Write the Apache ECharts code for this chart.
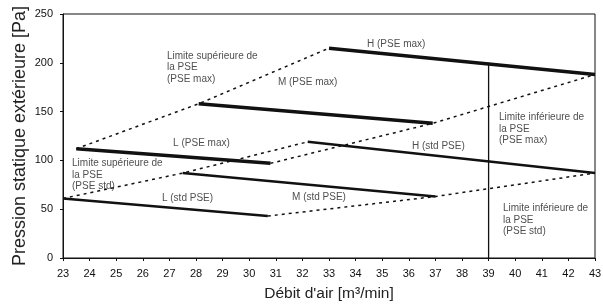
<!DOCTYPE html>
<html><head><meta charset="utf-8">
<script src="https://cdn.jsdelivr.net/npm/echarts@6/dist/echarts.min.js"></script>
<style>html,body{margin:0;padding:0;background:#fff}#c{width:603px;height:304px}</style>
</head><body><div id="c"></div>
<script>
// Fan curves [airflow m3/min, pressure Pa]
const H_max = [[33.0, 215], [43.0, 188]];
const M_max = [[28.1, 158], [36.9, 138]];
const L_max = [[23.5, 112], [30.8, 97]];
const H_std = [[32.2, 119], [43.0, 87]];
const M_std = [[27.5, 87], [37.0, 63]];
const L_std = [[23.0, 61], [30.7, 43]];
// Limit (dotted) lines
const upperMax = [[23.5, 112], [28.1, 158], [33.0, 215]];
const lowerMax = [[30.8, 97], [36.9, 138], [43.0, 188]];
const upperStd = [[23.0, 61], [27.5, 87], [32.2, 119]];
const lowerStd = [[30.7, 43], [37.0, 63], [43.0, 87]];
const vLine = [[39, 0], [39, 200]];
// Annotations
const annoText = [
  "Limite supérieure de\nla PSE\n(PSE max)", "M (PSE max)", "H (PSE max)", "L (PSE max)",
  "Limite inférieure de\nla PSE\n(PSE max)", "H (std PSE)",
  "Limite supérieure de\nla PSE\n(PSE std)", "L (std PSE)", "M (std PSE)",
  "Limite inférieure de\nla PSE\n(PSE std)"
];
const annoPos = [
  [26.91, 213.1], [31.08, 185.5], [34.43, 225.4], [27.14, 123], [39.39, 149.6],
  [36.12, 119.9], [23.34, 102.5], [26.72, 66.6], [31.61, 68.6], [39.54, 56.4]
];
const xTicks = [23,24,25,26,27,28,29,30,31,32,33,34,35,36,37,38,39,40,41,42,43];
const yTicks = [0, 50, 100, 150, 200, 250];
const xTitle = "Débit d'air [m³/min]";
const yTitle = 'Pression statique extérieure [Pa]';

const font = 'Liberation Sans, Arial, sans-serif';
function solid(d, w) { return {type:'line', data:d, symbol:'none', lineStyle:{color:'#111', width:w}, z:3}; }
function dotted(d) { return {type:'line', data:d, symbol:'none', lineStyle:{color:'#111', width:1.5, type:[3,4]}, z:2}; }

const chart = echarts.init(document.getElementById('c'), null, {renderer:'canvas'});
chart.setOption({
  animation:false,
  grid:{left:63, right:8, top:14, bottom:46, containLabel:false, outerBoundsMode:'none',
    show:true, borderColor:'#111', borderWidth:1},
  graphic:[{type:'text', x:20, y:136, rotation:Math.PI/2,
    style:{text:yTitle, fontFamily:font, fontSize:18, fill:'#222', align:'center', verticalAlign:'middle'}}],
  xAxis:{type:'value', min:xTicks[0], max:xTicks[xTicks.length-1], interval:1,
    name:xTitle, nameLocation:'middle', nameGap:28,
    nameTextStyle:{fontFamily:font, fontSize:15.5, color:'#222'},
    axisLine:{lineStyle:{color:'#111'}}, axisTick:{length:3, lineStyle:{color:'#111'}},
    axisLabel:{fontFamily:font, fontSize:11, color:'#111', margin:10},
    splitLine:{show:false}},
  yAxis:{type:'value', min:yTicks[0], max:yTicks[yTicks.length-1], interval:50,
    axisLine:{show:true, lineStyle:{color:'#111'}}, axisTick:{show:true, length:3, lineStyle:{color:'#111'}},
    axisLabel:{fontFamily:font, fontSize:11, color:'#111', margin:10},
    splitLine:{show:false}},
  series:[
    solid(H_max, 3.5), solid(M_max, 3.5), solid(L_max, 3.5),
    solid(H_std, 2.5), solid(M_std, 2.5), solid(L_std, 2.5),
    dotted(upperMax), dotted(lowerMax), dotted(upperStd), dotted(lowerStd),
    {type:'line', data:vLine, symbol:'none', lineStyle:{color:'#111', width:1.3}, z:2},
    {type:'scatter', symbolSize:0, z:5,
     data: annoPos.map((p,i)=>({value:p, name:annoText[i]})),
     label:{show:true, position:[0,0], align:'left', verticalAlign:'top',
       formatter:p=>p.name, fontFamily:font, fontSize:10, lineHeight:11.5, color:'#222'}}
  ]
});
</script></body></html>
